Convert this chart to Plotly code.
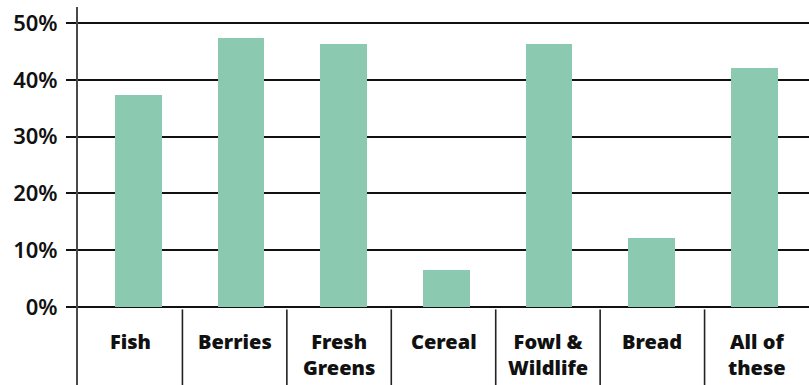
import plotly.graph_objects as go

categories = ["Fish", "Berries", "Fresh Greens", "Cereal", "Fowl & Wildlife", "Bread", "All of these"]
label_text = ["Fish", "Berries", "Fresh<br>Greens", "Cereal", "Fowl &<br>Wildlife", "Bread", "All of<br>these"]
values = [37.4, 47.4, 46.4, 6.5, 46.4, 12.1, 42.1]
tick_vals = [0, 10, 20, 30, 40, 50]
tick_text = ["0%", "10%", "20%", "30%", "40%", "50%"]

BAR_COLOR = "#8BC9B0"
FONT = "Noto Sans"

fig = go.Figure()
fig.add_trace(go.Bar(
    x=categories,
    y=values,
    width=0.455,
    marker=dict(color=BAR_COLOR, line=dict(width=0)),
    hoverinfo="x+y",
))

# category dividers below the baseline
n = len(categories)
shapes = []
for k in range(1, n):
    shapes.append(dict(
        type="line", xref="paper", yref="paper",
        x0=k / n, x1=k / n, y0=0.0, y1=0.2,
        line=dict(color="#222222", width=1.6),
    ))

annotations = []
for i, txt in enumerate(label_text):
    annotations.append(dict(
        x=(i + 0.5) / n, xref="paper",
        y=0.157, yref="paper",
        yanchor="top", xanchor="center",
        text=txt, showarrow=False,
        font=dict(family=FONT, size=20, color="#111111", weight=900),
        align="center",
    ))

fig.update_layout(
    width=809, height=385,
    margin=dict(l=78, r=0, t=7, b=0),
    plot_bgcolor="white", paper_bgcolor="white",
    showlegend=False,
    bargap=0,
    shapes=shapes,
    annotations=annotations,
    xaxis=dict(
        range=[-0.588, 6.532],
        showticklabels=False, showgrid=False, zeroline=False,
        showline=False, ticks="",
        fixedrange=True,
    ),
    yaxis=dict(
        range=[-13.79, 52.87],
        tickvals=tick_vals, ticktext=tick_text,
        showgrid=True, gridcolor="#111111", gridwidth=2,
        zeroline=False,
        showline=True, linecolor="#4a4a4a", linewidth=2,
        ticks="outside", ticklen=10, tickwidth=2, tickcolor="#111111",
        ticklabelstandoff=4,
        tickfont=dict(family=FONT, size=22, color="#111111", weight=600),
        fixedrange=True,
    ),
)

fig.write_html("out.html")
